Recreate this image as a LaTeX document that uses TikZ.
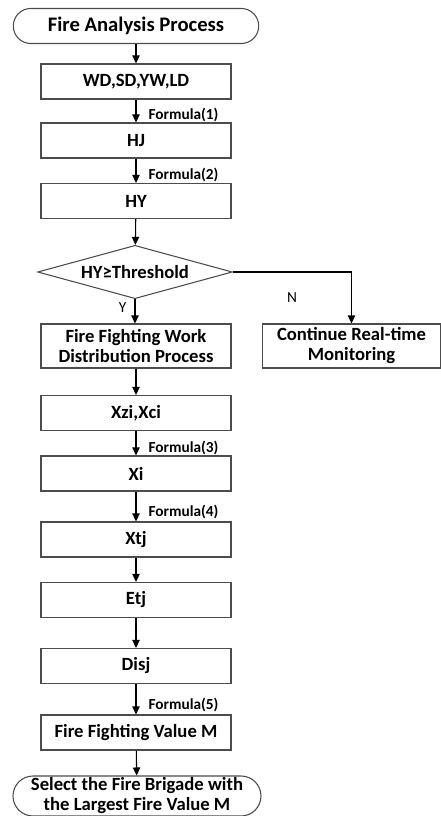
\documentclass[tikz,border=0pt]{standalone}
\usepackage{fontspec}
\setmainfont{Carlito}
\usetikzlibrary{arrows.meta,shapes.geometric,positioning}
\tikzset{
  procbox/.style={draw=black!70,line width=0.8pt,minimum width=142.5pt,minimum height=26.25pt,
    inner sep=1pt,align=center,font=\bfseries\fontsize{14}{15}\selectfont},
  termbox/.style={procbox,rounded corners=13pt,minimum width=184pt},
  decbox/.style={draw=black!70,line width=0.8pt,diamond,aspect=3.7,minimum width=146pt,
    minimum height=40pt,inner sep=0pt,font=\bfseries\fontsize{14}{15}\selectfont},
  flowArrow/.style={-{Triangle[length=6pt,width=5.5pt]},line width=0.8pt},
  formLbl/.style={font=\bfseries\fontsize{11.5}{12}\selectfont,inner sep=1pt}
}

\begin{document}
\begin{tikzpicture}[x=0.75pt,y=-0.75pt]
  \useasboundingbox (0,0) rectangle (441,816);
  \node[termbox,font=\bfseries\fontsize{15.5}{16}\selectfont] (start) at (136,26) {Fire Analysis Process};
  \foreach \n/\y/\t in {wd/81.5/{WD,SD,YW,LD},hj/140.5/HJ,hy/201/HY,
      xzi/413/{Xzi,Xci},xi/473.5/Xi,xtj/539.5/Xtj,etj/600/Etj,disj/666/Disj,
      ffv/732.5/Fire Fighting Value M}
    \node[procbox] (\n) at (136,\y) {\t};
  \node[decbox] (dec) at (135,272) {HY≥Threshold};
  \node[procbox,minimum height=33pt] (ffw) at (136,346) {Fire Fighting Work\\Distribution Process};
  \node[procbox,minimum width=133pt,minimum height=33pt] (cont) at (351.5,346) {Continue Real-time\\Monitoring};
  \node[termbox,minimum height=30pt,rounded corners=15pt,minimum width=186pt] (stop) at (137,796)
    {Select the Fire Brigade with\\the Largest Fire Value M};

  \foreach \a/\b in {start/wd,hy/dec,ffw/xzi,xtj/etj,etj/disj,ffv/stop}
    \draw[flowArrow] (\a) -- (\b);
  \foreach \a/\b/\f in {wd/hj/1,hj/hy/2,xzi/xi/3,xi/xtj/4,disj/ffv/5}
    \draw[flowArrow] (\a) -- node[formLbl,pos=0.68,right=8pt]{Formula(\f)} (\b);
  \draw[flowArrow] (dec.south) -- node[formLbl,pos=0.35,left=5pt,font=\fontsize{11.5}{12}\selectfont]{Y} (ffw.north -| dec.south);
  \draw[flowArrow] (dec.east) -| node[formLbl,pos=0.25,below=14pt,font=\fontsize{11.5}{12}\selectfont]{N} (cont.north);
\end{tikzpicture}
\end{document}
